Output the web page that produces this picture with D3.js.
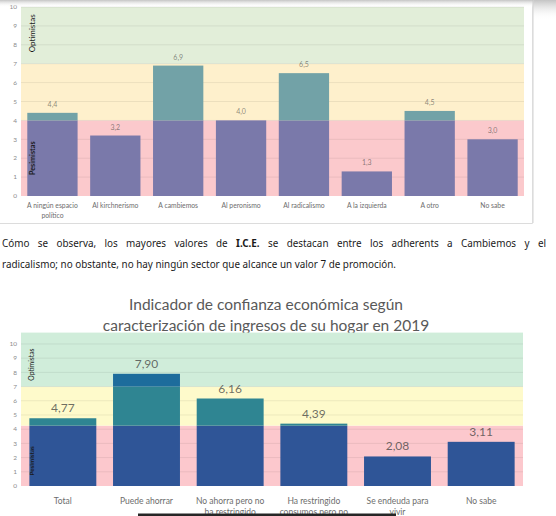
<!DOCTYPE html>
<html>
<head>
<meta charset="utf-8">
<script src="https://cdn.jsdelivr.net/npm/d3@7"></script>
<style>
	body { margin: 0; background: #fff; }
	svg { display: block; }
</style>
</head>
<body>
<svg id="page" width="556" height="516"></svg>
<script>
// ICE por simpatía política (first chart)
const party_names = [["A ningún espacio", "político"], ["Al kirchnerismo"], ["A cambiemos"], ["Al peronismo"],
	["Al radicalismo"], ["A la izquierda"], ["A otro"], ["No sabe"]];
const party_values = [4.4, 3.2, 6.9, 4.0, 6.5, 1.3, 4.5, 3.0];

// ICE por caracterización de ingresos (second chart)
const income_names = [["Total"], ["Puede ahorrar"], ["No ahorra pero no", "ha restringido"],
	["Ha restringido", "consumos pero no"], ["Se endeuda para", "vivir"], ["No sabe"]];
const income_values = [4.77, 7.90, 6.16, 4.39, 2.08, 3.11];

const y_ticks = [0, 1, 2, 3, 4, 5, 6, 7, 8, 9, 10];
const party_zones = [[0, 4], [4, 7], [7, 10]];
const income_zones = [[0, 4.25], [4.25, 7], [7, 10.8]];
const zone_names = ["Pesimistas", "", "Optimistas"];

const income_title = ["Indicador de confianza económica según", "caracterización de ingresos de su hogar en 2019"];
const paragraph_1 = ["Cómo", "se", "observa,", "los", "mayores", "valores", "de", "I.C.E.", "se", "destacan", "entre",
	"los", "adherents", "a", "Cambiemos", "y", "el"];
const paragraph_2 = "radicalismo; no obstante, no hay ningún sector que alcance un valor 7 de promoción.";

const es = d3.formatLocale({decimal: ",", thousands: ".", grouping: [3], currency: ["$", ""]});

let svg = d3.select("#page");

function draw_chart(g, opt) {
	let x = d3.scaleBand()
		.domain(d3.range(opt.names.length))
		.range([opt.left, opt.right])
		.paddingInner(0.2)
		.paddingOuter(0.1);
	let y = d3.scaleLinear().domain(opt.domain).range([opt.bottom, opt.top]);

	// coloured zones
	g.selectAll(".zone").data(opt.zones).enter().append("rect")
		.attr("x", opt.left)
		.attr("width", opt.right - opt.left)
		.attr("y", d => y(d[1]))
		.attr("height", d => y(d[0]) - y(d[1]))
		.attr("fill", (d, i) => opt.zone_colors[i]);

	g.selectAll(".grid").data(y_ticks.filter(t => t > 0)).enter().append("line")
		.attr("x1", opt.left).attr("x2", opt.right)
		.attr("y1", d => y(d)).attr("y2", d => y(d))
		.attr("stroke", "#000").attr("stroke-opacity", 0.07);

	// bars split by zone
	let segs = [];
	opt.values.forEach((v, i) => {
		opt.zones.forEach((z, j) => {
			if (v > z[0]) segs.push({i: i, lo: z[0], hi: Math.min(v, z[1]), zone: j});
		});
	});
	g.selectAll(".seg").data(segs).enter().append("rect")
		.attr("x", d => x(d.i))
		.attr("width", x.bandwidth())
		.attr("y", d => y(d.hi))
		.attr("height", d => y(d.lo) - y(d.hi))
		.attr("fill", d => opt.bar_colors[d.zone]);

	g.selectAll(".ytick").data(y_ticks).enter().append("text")
		.attr("x", opt.left - 4)
		.attr("y", d => y(d))
		.attr("dy", "0.35em")
		.attr("text-anchor", "end")
		.attr("font-size", opt.tick_size)
		.attr("fill", "#8c8c8c")
		.text(d => d);

	g.selectAll(".value").data(opt.values).enter().append("text")
		.attr("x", (d, i) => x(i) + x.bandwidth() / 2)
		.attr("y", d => y(d) - opt.value_gap)
		.attr("text-anchor", "middle")
		.attr("font-size", opt.value_size)
		.attr("fill", "#404040")
		.attr("fill-opacity", opt.value_opacity)
		.text(d => es.format(opt.value_format)(d));

	let cats = g.selectAll(".cat").data(opt.names).enter().append("text")
		.attr("text-anchor", "middle")
		.attr("font-size", opt.cat_size)
		.attr("fill", "#6d6d6d");
	cats.selectAll("tspan").data((d, i) => d.map(s => ({s: s, i: i}))).enter().append("tspan")
		.attr("x", d => x(d.i) + x.bandwidth() / 2)
		.attr("y", (d, k) => opt.cat_y + k * opt.cat_line)
		.text(d => d.s);

	opt.zones.forEach((z, j) => {
		if (!zone_names[j]) return;
		let cy = (y(z[0]) + y(z[1])) / 2 + opt.zone_shift[j];
		g.append("text")
			.attr("transform", `translate(${opt.left + 11},${cy}) rotate(-90)`)
			.attr("text-anchor", "middle")
			.attr("dy", "0.35em")
			.attr("font-size", opt.zone_size[j])
			.attr("font-weight", j == 0 ? "bold" : "normal")
			.attr("fill", "#1a1a1a")
			.text(zone_names[j]);
	});
}

// page shadow + frame of the first chart
let defs = svg.append("defs");
let shade = defs.append("linearGradient").attr("id", "shade").attr("x1", 0).attr("x2", 0).attr("y1", 0).attr("y2", 1);
shade.append("stop").attr("offset", "0%").attr("stop-color", "#c4c4c4");
shade.append("stop").attr("offset", "100%").attr("stop-color", "#fff").attr("stop-opacity", 0);

svg.append("rect").attr("x", 533).attr("y", 0).attr("width", 23).attr("height", 20).attr("fill", "url(#shade)");
svg.append("line").attr("x1", 533).attr("x2", 533).attr("y1", 0).attr("y2", 223).attr("stroke", "#d4d4d4");
svg.append("path").attr("d", "M0,223.5H532.5V0").attr("fill", "none").attr("stroke", "#dcdcdc");

let top_chart = svg.append("g").attr("font-family", "Lato, 'Open Sans', sans-serif");
draw_chart(top_chart, {
	names: party_names, values: party_values, zones: party_zones,
	domain: [0, 10], left: 21, right: 524, top: 7, bottom: 196,
	zone_colors: ["#fbc9cc", "#fef0cc", "#e2eed9"],
	bar_colors: ["#7a79aa", "#72a2a7", "#72a2a7"],
	tick_size: 6.5, value_size: 7, value_gap: 6, value_opacity: 0.6, value_format: ".1f",
	cat_size: 6.8, cat_y: 208, cat_line: 9.5,
	zone_shift: [0, 0, -2], zone_size: [7.2, 0, 8]
});
svg.append("rect").attr("x", 0).attr("y", 0).attr("width", 533).attr("height", 7).attr("fill", "url(#shade)");

// paragraph, first line justified
let para = svg.append("g").attr("font-family", "'Noto Sans', sans-serif").attr("font-size", 9.9).attr("fill", "#1a1a1a");
let line_1 = para.append("text").attr("y", 247);
let words = line_1.selectAll("tspan").data(paragraph_1).enter().append("tspan")
	.attr("font-weight", d => d == "I.C.E." ? "bold" : "normal")
	.text(d => d);
let widths = words.nodes().map(n => n.getComputedTextLength());
let gap = (546 - 2 - d3.sum(widths)) / (paragraph_1.length - 1);
let cursor = 2;
words.attr("x", (d, i) => { let px = cursor; cursor += widths[i] + gap; return px; });
para.append("text").attr("x", 2).attr("y", 268).text(paragraph_2);

// second chart
let bottom_chart = svg.append("g").attr("font-family", "Lato, 'Open Sans', sans-serif");
bottom_chart.selectAll(".title").data(income_title).enter().append("text")
	.attr("x", 266)
	.attr("y", (d, i) => 310 + i * 21)
	.attr("text-anchor", "middle")
	.attr("font-size", 15.5)
	.attr("fill", "#595959")
	.text(d => d);
draw_chart(bottom_chart, {
	names: income_names, values: income_values, zones: income_zones,
	domain: [0, 10.8], left: 21, right: 523, top: 332.6, bottom: 486,
	zone_colors: ["#fcc8cd", "#fefacb", "#d0edda"],
	bar_colors: ["#2f5597", "#2f8592", "#1d6c9c"],
	tick_size: 6.5, value_size: 12, value_gap: 6, value_opacity: 0.75, value_format: ".2f",
	cat_size: 8.5, cat_y: 504, cat_line: 11,
	zone_shift: [5, 0, 5], zone_size: [6.3, 0, 6.8]
});

// dark bar across the bottom edge
svg.append("rect").attr("x", 138).attr("y", 513.5).attr("width", 258).attr("height", 3).attr("fill", "#262626");
</script>
</body>
</html>
